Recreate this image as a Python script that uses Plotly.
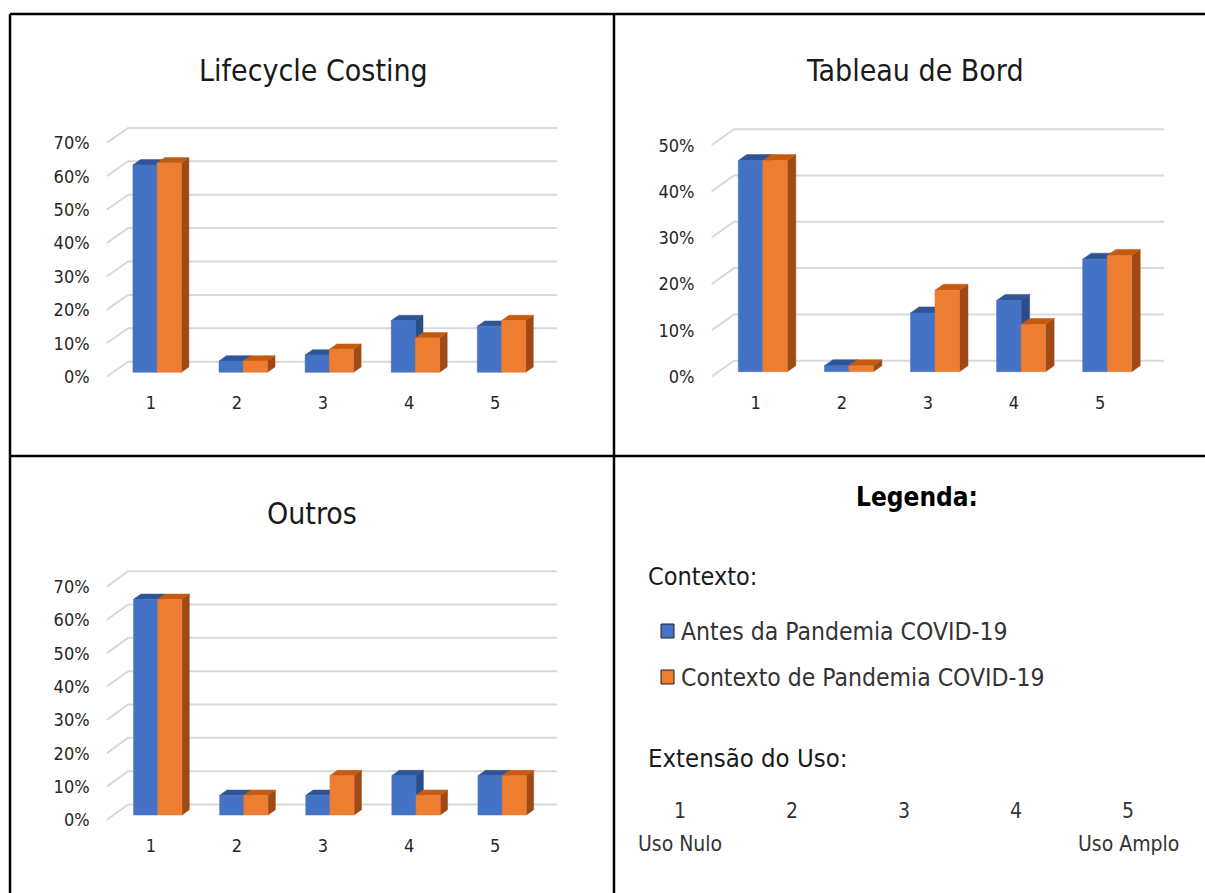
import plotly.graph_objects as go

W, H = 1205, 893

# ---- data -------------------------------------------------------------
categories = [1, 2, 3, 4, 5]
series_names = ["Antes da Pandemia COVID-19", "Contexto de Pandemia COVID-19"]

lifecycle_antes = [62.1, 3.4, 5.2, 15.5, 13.8]
lifecycle_pandemia = [62.7, 3.4, 6.9, 10.3, 15.5]

tableau_antes = [45.6, 1.3, 12.7, 15.4, 24.3]
tableau_pandemia = [45.6, 1.3, 17.6, 10.2, 25.1]

outros_antes = [64.7, 5.9, 5.9, 11.8, 11.8]
outros_pandemia = [64.7, 5.9, 11.8, 5.9, 11.8]

ticks_70 = [0, 10, 20, 30, 40, 50, 60, 70]
ticks_50 = [0, 10, 20, 30, 40, 50]

scale_numbers = ["1", "2", "3", "4", "5"]
scale_ends = ["Uso Nulo", "Uso Amplo"]

# ---- styling ------------------------------------------------------------
FONT = "DejaVu Sans Condensed, Liberation Sans, sans-serif"
FRONT = ["#4472C4", "#ED7D31"]
TOP = ["#2F5597", "#C55A11"]
SIDE = ["#2B4D8A", "#9E4A16"]
GRID = "#D9D9D9"

# panel geometry in page pixels
panels = [
    dict(name="Lifecycle Costing", a=lifecycle_antes, b=lifecycle_pandemia, ticks=ticks_70,
         x1=150.8, step=86.1, y0=376.7, ppu=3.34, floor_x=106.6, back=(21.5, 15.0),
         grid_right=557, d1=4.4, d2=9.7, bar_w=24.2, top_px=118, bottom_px=390,
         title_xy=(313, 70)),
    dict(name="Tableau de Bord", a=tableau_antes, b=tableau_pandemia, ticks=ticks_50,
         x1=755.7, step=86.1, y0=376.7, ppu=4.63, floor_x=711.4, back=(22.7, 16.0),
         grid_right=1164, d1=5.0, d2=11.0, bar_w=24.5, top_px=118, bottom_px=390,
         title_xy=(915, 70)),
    dict(name="Outros", a=outros_antes, b=outros_pandemia, ticks=ticks_70,
         x1=150.8, step=86.1, y0=820.0, ppu=3.333, floor_x=106.6, back=(21.5, 15.5),
         grid_right=557, d1=5.0, d2=10.3, bar_w=24.2, top_px=560, bottom_px=833,
         title_xy=(312, 513)),
]

fig = go.Figure()
layout_axes = {}
annotations = []

for i, p in enumerate(panels):
    n = i + 1
    xa = "x" if n == 1 else f"x{n}"
    ya = "y" if n == 1 else f"y{n}"

    def kx(px, p=p):
        return 1 + (px - p["x1"]) / p["step"]

    def vy(py, p=p):
        return (p["y0"] - py) / p["ppu"]

    left_px = p["floor_x"]
    right_px = p["grid_right"] + 3
    dxu = p["back"][0] / p["step"]
    dyu = p["back"][1] / p["ppu"]
    kL = kx(p["floor_x"])
    kR = kx(p["grid_right"])

    # back wall gridlines and left floor diagonals
    gx, gy = [], []
    for t in p["ticks"]:
        gx += [kL, kL + dxu, kR, None]
        gy += [t, t + dyu, t + dyu, None]
    fig.add_trace(go.Scatter(x=gx, y=gy, mode="lines", line=dict(color=GRID, width=2),
                             hoverinfo="skip", showlegend=False, xaxis=xa, yaxis=ya))

    # pseudo-3D clustered columns, painted back to front
    f1 = p["d1"] / p["back"][1]
    f2 = p["d2"] / p["back"][1]
    base = f1 * dyu
    ddx = (f2 - f1) * dxu
    ddy = (f2 - f1) * dyu
    wu = p["bar_w"] / p["step"]
    for ci, k in enumerate(categories):
        c = k + f1 * dxu
        for s, vals in enumerate([p["a"], p["b"]]):
            v = vals[ci]
            xl = c - wu + s * wu
            xr = xl + wu
            yb, yt = base, base + v
            faces = [
                ([xr, xr, xr + ddx, xr + ddx, xr], [yb, yt, yt + ddy, yb + ddy, yb], SIDE[s]),
                ([xl, xr, xr + ddx, xl + ddx, xl], [yt, yt, yt + ddy, yt + ddy, yt], TOP[s]),
                ([xl, xr, xr, xl, xl], [yb, yb, yt, yt, yb], FRONT[s]),
            ]
            for fx, fy, col in faces:
                fig.add_trace(go.Scatter(
                    x=fx, y=fy, mode="lines", fill="toself", fillcolor=col,
                    line=dict(color=col, width=0.5), hoverinfo="skip",
                    showlegend=False, xaxis=xa, yaxis=ya))

    layout_axes["xaxis" if n == 1 else f"xaxis{n}"] = dict(
        domain=[left_px / W, right_px / W], range=[kx(left_px), kx(right_px)],
        anchor=ya, showgrid=False, zeroline=False, showline=False, ticks="",
        tickvals=categories, ticktext=[str(c) for c in categories],
        tickfont=dict(family=FONT, size=18, color="#262626"), ticklabelstandoff=0,
        fixedrange=True)
    layout_axes["yaxis" if n == 1 else f"yaxis{n}"] = dict(
        domain=[1 - p["bottom_px"] / H, 1 - p["top_px"] / H],
        range=[vy(p["bottom_px"]), vy(p["top_px"])],
        anchor=xa, showgrid=False, zeroline=False, showline=False, ticks="",
        tickvals=p["ticks"], ticktext=[f"{t}%" for t in p["ticks"]],
        tickfont=dict(family=FONT, size=18, color="#262626"), ticklabelstandoff=16,
        fixedrange=True)

    tx, ty = p["title_xy"]
    annotations.append(dict(text=p["name"], x=tx / W, y=1 - ty / H, xref="paper", yref="paper",
                            xanchor="center", yanchor="middle", showarrow=False,
                            font=dict(family=FONT, size=30, color="#1A1A1A")))

# ---- legend cell ---------------------------------------------------------
def ann(text, px, py, size, anchor="left", bold=False, color="#1A1A1A"):
    annotations.append(dict(
        text=f"<b>{text}</b>" if bold else text, x=px / W, y=1 - py / H,
        xref="paper", yref="paper", xanchor=anchor, yanchor="middle", showarrow=False,
        font=dict(family=FONT, size=size, color=color)))

ann("Legenda:", 917, 497, 26, anchor="center", bold=True, color="#000000")
ann("Contexto:", 646, 576, 25)
ann(series_names[0], 679, 631, 24.5, color="#333333")
ann(series_names[1], 679, 677, 24.5, color="#333333")
ann("Extensão do Uso:", 646, 758, 25.5)
for j, lab in enumerate(scale_numbers):
    ann(lab, 680 + 112 * j, 811, 21, anchor="center", color="#333333")
ann(scale_ends[0], 680, 844, 21, anchor="center", color="#333333")
ann(scale_ends[1], 1128, 844, 21, anchor="center", color="#333333")

shapes = []
for s, cy in enumerate([631, 677]):
    shapes.append(dict(type="rect", xref="paper", yref="paper",
                       x0=661 / W, x1=674 / W, y0=1 - (cy + 7) / H, y1=1 - (cy - 7) / H,
                       fillcolor=FRONT[s], line=dict(color="#1F1F1F", width=1)))

# table borders
border = dict(color="#000000", width=2.5)
for x0, y0, x1, y1 in [(10, 14, W, 14), (10, 14, 10, H), (614, 14, 614, H), (10, 456, W, 456)]:
    shapes.append(dict(type="line", xref="paper", yref="paper",
                       x0=x0 / W, y0=1 - y0 / H, x1=x1 / W, y1=1 - y1 / H, line=border))

fig.update_layout(
    width=W, height=H, margin=dict(l=0, r=0, t=0, b=0),
    paper_bgcolor="white", plot_bgcolor="rgba(0,0,0,0)",
    showlegend=False, annotations=annotations, shapes=shapes, **layout_axes)

fig.write_html("out.html")
